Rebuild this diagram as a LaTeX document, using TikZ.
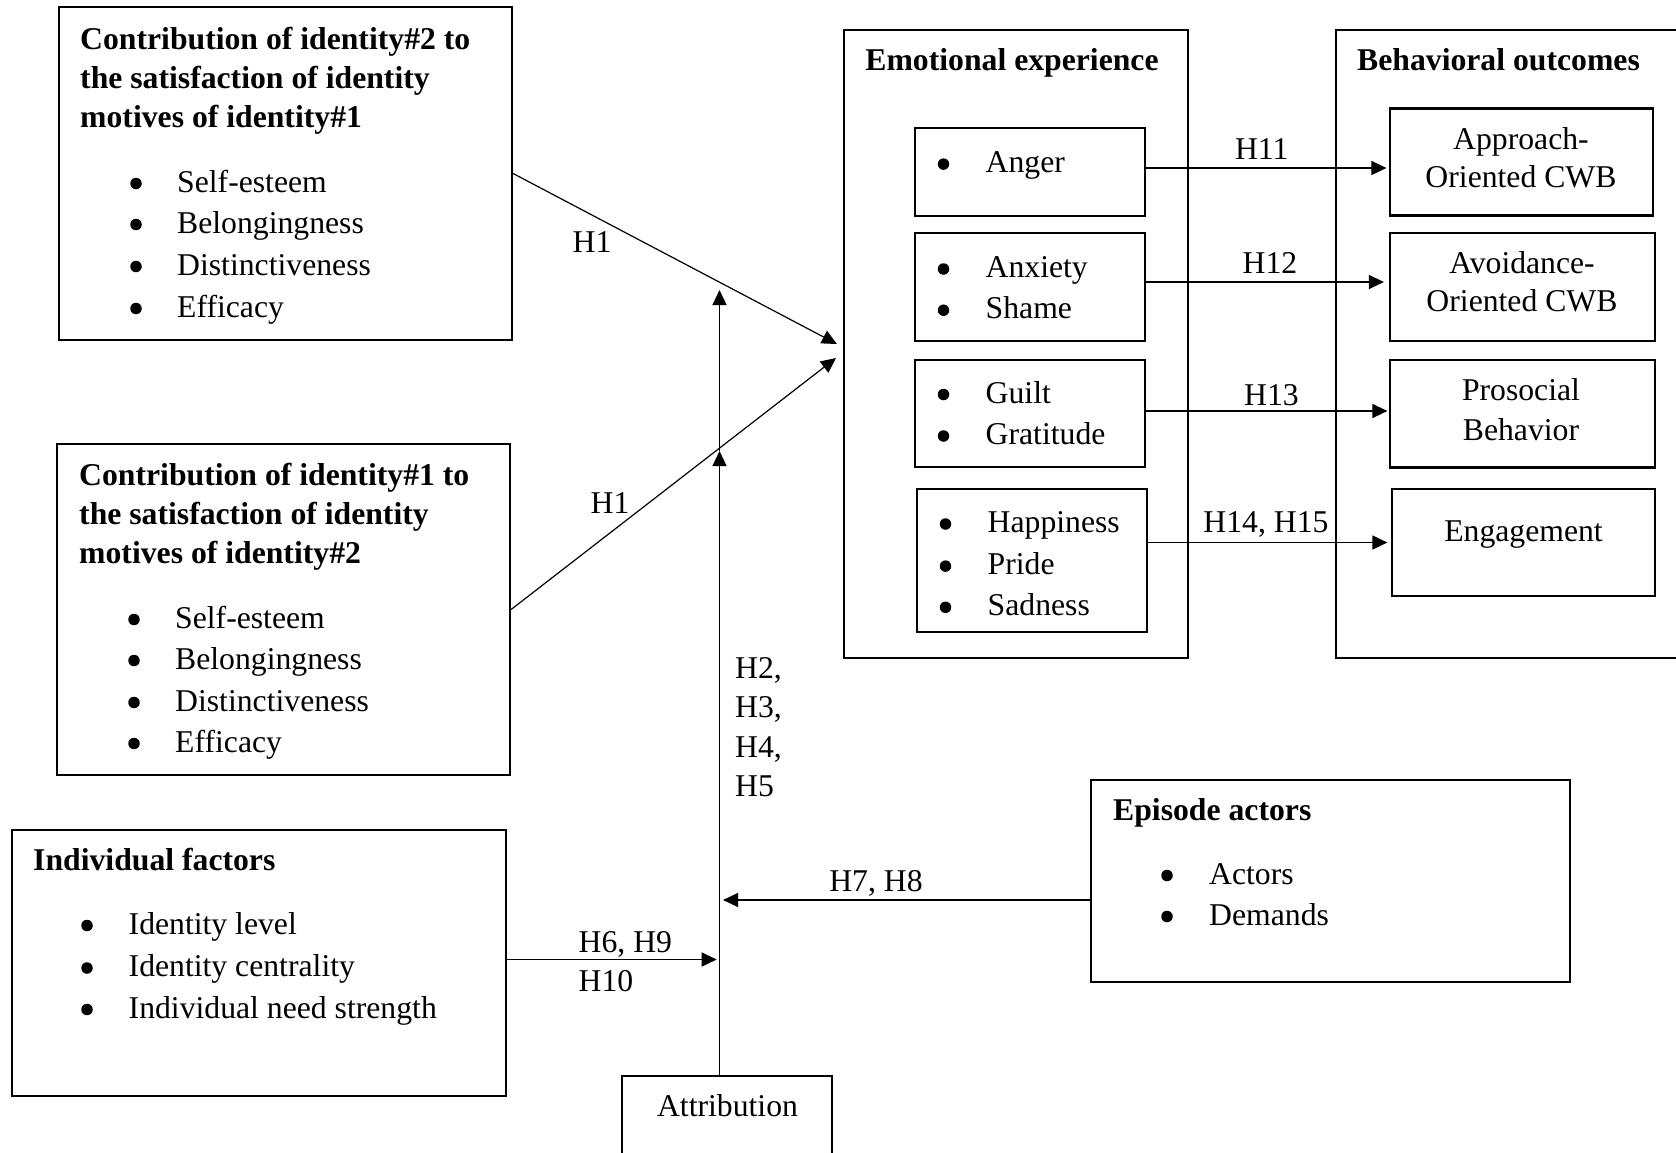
\documentclass[tikz,border=0pt]{standalone}
\usepackage{fontspec}
\setmainfont{Liberation Serif}
\usetikzlibrary{arrows.meta,calc}

\begin{document}
\begin{tikzpicture}[x=1pt,y=-1pt,
  txt/.style={font=\fontsize{31.7}{40}\selectfont, inner sep=0pt, anchor=base west},
  ctxt/.style={txt, anchor=base},
  ttl/.style={txt, font=\fontsize{31.7}{40}\selectfont\bfseries},
  dot/.style={circle, fill, inner sep=0pt, minimum size=11.5pt, yshift=8.5pt},
  frame/.style={draw, line width=2.2pt, inner sep=0pt, rectangle},
  link/.style={line width=1.2pt, -{Triangle[length=15pt,width=14pt]}}
]
% canvas
\fill[white] (0,0) rectangle (1676,1152);
\useasboundingbox (0,0) rectangle (1676,1152);

% ---------- left column boxes ----------
\node[frame, minimum width=453pt, minimum height=333pt] (idA) at (285.5,173.5) {};
\node[ttl] (idAt1) at (80,49) {Contribution of identity\#2 to};
\node[ttl] (idAt2) at (80,88) {the satisfaction of identity};
\node[ttl] (idAt3) at (80,127) {motives of identity\#1};
\foreach \y/\t [count=\i] in {192/Self-esteem,233/Belongingness,275/Distinctiveness,317/Efficacy}{
  \node[dot] (idAb\i) at (136,\y) {};
  \node[txt] (idAi\i) at (177,\y) {\t};
}

\node[frame, minimum width=453pt, minimum height=331pt] (idB) at (283.5,609.5) {};
\node[ttl] (idBt1) at (79,485) {Contribution of identity\#1 to};
\node[ttl] (idBt2) at (79,524) {the satisfaction of identity};
\node[ttl] (idBt3) at (79,563.5) {motives of identity\#2};
\foreach \y/\t [count=\i] in {628/Self-esteem,669/Belongingness,711/Distinctiveness,752/Efficacy}{
  \node[dot] (idBb\i) at (134,\y) {};
  \node[txt] (idBi\i) at (175,\y) {\t};
}

\node[frame, minimum width=494pt, minimum height=266pt] (indiv) at (259,963) {};
\node[ttl] (indivt) at (33,870) {Individual factors};
\foreach \y/\t [count=\i] in {934/Identity level,976.5/Identity centrality,1018/Individual need strength}{
  \node[dot] (indivb\i) at (87,\y) {};
  \node[txt] (indivi\i) at (128.5,\y) {\t};
}

\node[frame, minimum width=210pt, minimum height=104pt] (attr) at (727,1128) {};
\node[ctxt] (attrt) at (727.5,1116) {Attribution};

% ---------- episode actors ----------
\node[frame, minimum width=479pt, minimum height=202pt] (ep) at (1330.5,881) {};
\node[ttl] (ept) at (1113,820) {Episode actors};
\node[dot] (epb1) at (1167,884) {};
\node[txt] (epi1) at (1209,884) {Actors};
\node[dot] (epb2) at (1167,925) {};
\node[txt] (epi2) at (1209,925) {Demands};

% ---------- emotional experience ----------
\node[frame, minimum width=344pt, minimum height=628pt] (emo) at (1016,344) {};
\node[ttl, anchor=base] (emot) at (1012,70) {Emotional experience};

\node[frame, minimum width=230pt, minimum height=88pt]  (anger) at (1030,172) {};
\node[frame, minimum width=230pt, minimum height=108pt] (anx)   at (1030,287) {};
\node[frame, minimum width=230pt, minimum height=107pt] (guilt) at (1030,413.5) {};
\node[frame, minimum width=230pt, minimum height=143pt] (happy) at (1032,560.5) {};
\foreach \x/\y/\t [count=\i] in {943.5/172.6/Anger,943.5/277.5/Anxiety,943.5/318.7/Shame,943.5/403/Guilt,943.5/444.5/Gratitude,945.5/532.5/Happiness,945.5/574.6/Pride,945.5/615.8/Sadness}{
  \node[dot] (emob\i) at (\x,\y) {};
  \node[txt] (emoi\i) at (\x+42,\y) {\t};
}

% ---------- behavioral outcomes ----------
\node[frame, minimum width=364pt, minimum height=628pt] (beh) at (1518,344) {};
\node[ttl] (beht) at (1357,70) {Behavioral outcomes};

\node[frame, minimum width=263pt, minimum height=107pt]   (appr)  at (1521.5,162) {};
\node[frame, minimum width=265pt, minimum height=108pt]   (avoid) at (1522.5,287) {};
\node[frame, minimum width=265pt, minimum height=107.5pt] (pros)  at (1522.5,413.75) {};
\node[frame, minimum width=263pt, minimum height=107pt]   (eng)   at (1523.5,542.5) {};
\node[ctxt] (appr1) at (1521,149.6) {Approach-};
\node[ctxt] (appr2) at (1521,187.3) {Oriented CWB};
\node[ctxt] (avoid1) at (1522,273) {Avoidance-};
\node[ctxt] (avoid2) at (1522,311) {Oriented CWB};
\node[ctxt] (pros1) at (1521,400) {Prosocial};
\node[ctxt] (pros2) at (1521,440) {Behavior};
\node[ctxt] (eng1) at (1523.5,541) {Engagement};

% ---------- connectors ----------
\coordinate (e1) at ($(emo.west)+(-6,0)$);
\coordinate (e2) at ($(emo.west)+(-7,14)$);
\draw[link] (idA.east) -- (e1);
\draw[link] (idB.east) -- (e2);

\coordinate (vb) at ($(attr.north)+(-7.5,0)$);
\coordinate (m1) at (vb |- 0,451);
\coordinate (m2) at (vb |- 0,290);
\draw[link] (vb) -- (m1);
\draw[link] (m1) -- (m2);

\coordinate (h6s) at ([yshift=3.5pt]indiv.east);
\draw[link, shorten >=2.8pt] (h6s) -- (h6s -| vb);
\coordinate (h7s) at ([yshift=-19pt]ep.west);
\draw[link, shorten >=3.5pt] (h7s) -- (h7s -| vb);

\coordinate (h11s) at ([yshift=4pt]anger.east);
\draw[link, shorten >=2.5pt] (h11s) -- (h11s -| appr.west);
\coordinate (h12s) at ([yshift=5pt]anx.east);
\draw[link, shorten >=5pt] (h12s) -- (h12s -| avoid.west);
\coordinate (h13s) at ([yshift=2.5pt]guilt.east);
\draw[link, shorten >=1.5pt] (h13s) -- (h13s -| pros.west);
\coordinate (h14s) at (eng.west -| happy.east);
\draw[link, shorten >=3.5pt] (h14s) -- (eng.west);

% ---------- hypothesis labels ----------
\node[ctxt] (lh1a) at (592,252) {H1};
\node[ctxt] (lh1b) at (610,513) {H1};
\node[txt] (lh2) at (735,678.6) {H2,};
\node[txt] (lh3) at (735,717.7) {H3,};
\node[txt] (lh4) at (735,757) {H4,};
\node[txt] (lh5) at (735,796) {H5};
\node[txt] (lh6) at (578.5,952.6) {H6, H9};
\node[txt] (lh10) at (578.5,991.7) {H10};
\node[ctxt] (lh7) at (876,891.7) {H7, H8};
\node[ctxt] (lh11) at (1261.7,159.6) {H11};
\node[ctxt] (lh12) at (1270,273) {H12};
\node[ctxt] (lh13) at (1271.4,405.5) {H13};
\node[ctxt] (lh14) at (1266,532.5) {H14, H15};
\end{tikzpicture}
\end{document}
